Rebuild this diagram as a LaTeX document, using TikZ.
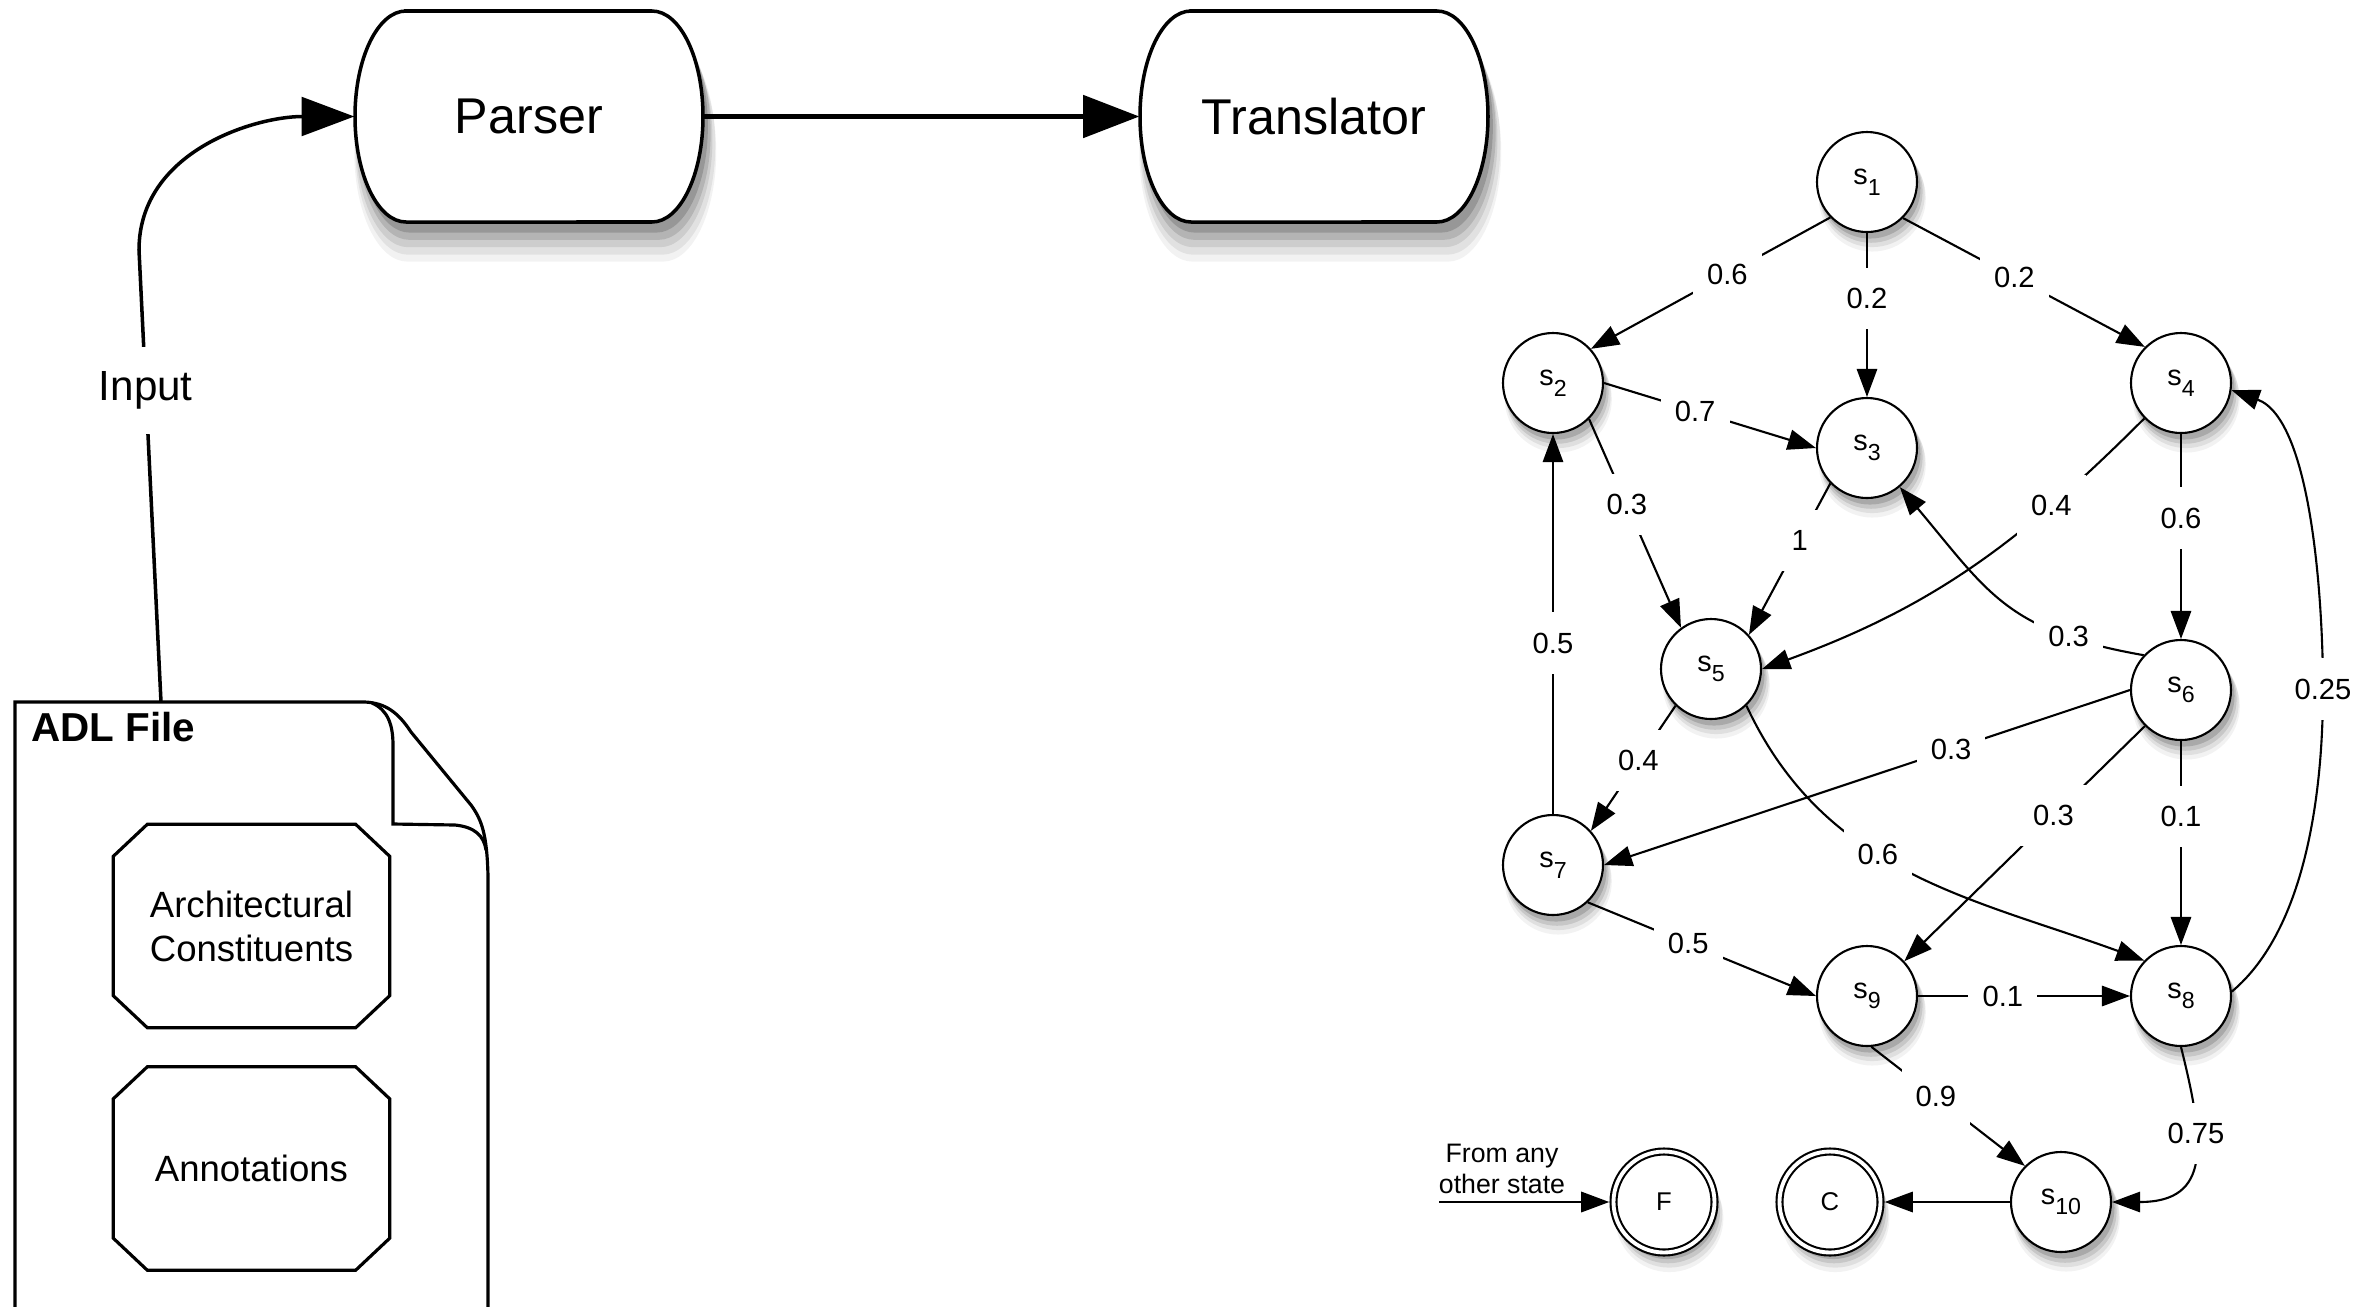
\documentclass[tikz,border=0pt]{standalone}
\usepackage{fontspec}
\setmainfont{Liberation Sans}
\usetikzlibrary{arrows.meta,shadows}

\newcommand{\sn}[1]{s\raisebox{-3pt}{\fontsize{6.6}{7}\selectfont #1}}

\begin{document}
\begin{tikzpicture}[>={Triangle[length=8pt,width=5.8pt]},
  softshadow/.style={
    general shadow={fill=black,opacity=0.05,shadow xshift=0.5mm,shadow yshift=-1.5mm,shadow scale=1.07},
    general shadow={fill=black,opacity=0.08,shadow xshift=0.5mm,shadow yshift=-1.2mm,shadow scale=1.05},
    general shadow={fill=black,opacity=0.11,shadow xshift=0.4mm,shadow yshift=-0.9mm,shadow scale=1.03},
    general shadow={fill=black,opacity=0.15,shadow xshift=0.3mm,shadow yshift=-0.6mm,shadow scale=1.01}},
  bigshadow/.style={
    general shadow={fill=black,opacity=0.05,shadow xshift=0.6mm,shadow yshift=-3.4mm,shadow scale=1.04},
    general shadow={fill=black,opacity=0.07,shadow xshift=0.6mm,shadow yshift=-2.8mm,shadow scale=1.035},
    general shadow={fill=black,opacity=0.09,shadow xshift=0.5mm,shadow yshift=-2.2mm,shadow scale=1.025},
    general shadow={fill=black,opacity=0.12,shadow xshift=0.5mm,shadow yshift=-1.6mm,shadow scale=1.015},
    general shadow={fill=black,opacity=0.16,shadow xshift=0.4mm,shadow yshift=-1mm,shadow scale=1.005}},
  state/.style={draw,circle,minimum size=1cm,inner sep=0pt,fill=white,line width=0.6pt,
    font=\fontsize{8.2}{10}\selectfont,softshadow},
  final/.style={state,double,double distance=1.1pt,minimum size=1.01cm,outer sep=1.2pt,font=\fontsize{7.3}{9}\selectfont},
  link/.style={->,line width=0.6pt},
  lbl/.style={fill=white,inner xsep=4pt,inner ysep=5.8pt,font=\fontsize{8.3}{10}\selectfont},
  proc/.style={minimum width=3.48cm,minimum height=2.11cm,inner sep=0pt,font=\fontsize{14.3}{17}\selectfont},
  procline/.style={draw,fill=white,line width=1pt,bigshadow},
  part/.style={minimum width=2.75cm,minimum height=2.02cm,inner sep=0pt,align=center,font=\fontsize{10.4}{12.5}\selectfont},
  big/.style={-{Triangle[length=16pt,width=12pt]},line width=1.3pt},
  inlbl/.style={fill=white,inner xsep=2pt,inner ysep=7pt,font=\fontsize{12}{14}\selectfont}]
\useasboundingbox (0,0) rectangle (23.8,-13.07);

% tool chain (outline first, then the text nodes on top)
\foreach \x in {5.29,13.14}
  \draw[procline] (\x-1.23,-0.11) -- (\x+1.23,-0.11)
    arc[start angle=90,end angle=-90,x radius=0.51,y radius=1.055]
    -- (\x-1.23,-2.22)
    arc[start angle=270,end angle=90,x radius=0.51,y radius=1.055] -- cycle;
\node[proc] (parser)     at (5.29,-1.165)  {Parser};
\node[proc] (translator) at (13.14,-1.165) {Translator};
\draw[big] (parser.east) -- (translator.west);

% ADL file
\draw[line width=0.9pt] (0.15,-13.3) -- (0.15,-7.02) -- (3.65,-7.02)
  .. controls (3.85,-7.03) and (3.98,-7.12) .. (4.11,-7.32) -- (4.71,-8.05)
  .. controls (4.82,-8.2) and (4.87,-8.35) .. (4.88,-8.76) -- (4.88,-13.3);
\draw[line width=0.9pt] (3.72,-7.03) .. controls (3.88,-7.1) and (3.93,-7.25) .. (3.93,-7.45)
  -- (3.93,-8.24) -- (4.55,-8.25) .. controls (4.75,-8.27) and (4.84,-8.36) .. (4.86,-8.5);
\node[anchor=west,font=\fontsize{11.5}{13}\selectfont\bfseries] (adl) at (0.19,-7.27) {ADL File};
\node[part] (arch)  at (2.515,-9.26)  {Architectural\\Constituents};
\node[part] (annot) at (2.515,-11.685) {Annotations};
\foreach \n in {arch,annot}
  \draw[line width=0.9pt] ([xshift=3.4mm]\n.north west) -- ([xshift=-3.4mm]\n.north east)
    -- ([yshift=-3.2mm]\n.north east) -- ([yshift=3.2mm]\n.south east)
    -- ([xshift=-3.4mm]\n.south east) -- ([xshift=3.4mm]\n.south west)
    -- ([yshift=3.2mm]\n.south west) -- ([yshift=-3.2mm]\n.north west) -- cycle;

\coordinate (in0)    at (1.61,-7.02);
\coordinate (inbend) at (1.39,-2.5);
\draw[line width=1pt,-{Triangle[length=15pt,width=11pt]}] (in0) -- node[inlbl,pos=0.69]{Input} (inbend)
  to[out=90,in=180] (parser.west);

% Markov chain
\node[state] (s1)  at (18.67,-1.82) {\sn{1}};
\node[state] (s2)  at (15.53,-3.83) {\sn{2}};
\node[state] (s3)  at (18.67,-4.48) {\sn{3}};
\node[state] (s4)  at (21.81,-3.83) {\sn{4}};
\node[state] (s5)  at (17.11,-6.69) {\sn{5}};
\node[state] (s6)  at (21.81,-6.90) {\sn{6}};
\node[state] (s7)  at (15.53,-8.65) {\sn{7}};
\node[state] (s8)  at (21.81,-9.96) {\sn{8}};
\node[state] (s9)  at (18.67,-9.96) {\sn{9}};
\node[state] (s10) at (20.61,-12.02) {\sn{10}};
\node[final] (c)   at (18.30,-12.02) {C};
\node[final] (f)   at (16.64,-12.02) {F};

\draw[link] (s1.224) -- node[lbl,pos=0.43]{0.6} (s2.42);
\draw[link] (s1) -- node[lbl,pos=0.4]{0.2} (s3);
\draw[link] (s1.-45) -- node[lbl,pos=0.46]{0.2} (s4.135);
\draw[link] (s2.east) -- node[lbl,pos=0.43]{0.7} (s3.west);
\draw[link] (s2.-45) -- node[lbl,pos=0.41]{0.3} (s5.126);
\draw[link] (s3.224) -- node[lbl,pos=0.375]{1} (s5.42);
\draw[link] (s4.224) to[out=225,in=20] node[lbl,pos=0.26]{0.4} (s5.east);
\draw[link] (s4) -- node[lbl,pos=0.41]{0.6} (s6);
\draw[link] (s6.137) to[out=170,in=-50,looseness=1.2] node[lbl,pos=0.22]{0.3} (s3.-50);
\draw[link] (s5.226) -- node[lbl,pos=0.44]{0.4} (s7.42);
\draw[link] (s5.-46) to[out=-65,in=160] node[lbl,pos=0.42]{0.6} (s8.136);
\draw[link] (s6.west) -- node[lbl,pos=0.34]{0.3} (s7.east);
\draw[link] (s6.225) -- node[lbl,pos=0.38]{0.3} (s9.43);
\draw[link] (s6) -- node[lbl,pos=0.37]{0.1} (s8);
\draw[link] (s7) -- node[lbl,pos=0.45]{0.5} (s2);
\draw[link] (s7.-47) -- node[lbl,pos=0.44]{0.5} (s9.west);
\draw[link] (s9) -- node[lbl,pos=0.4]{0.1} (s8);
\coordinate (r25) at (23.23,-6.89);
\draw[link] (s8.5) to[out=40,in=-90,looseness=0.8] (r25) node[lbl]{0.25}
  to[out=90,in=-20,looseness=0.7] (s4.-8);
\draw[link] (s8.south) to[out=-76,in=0,looseness=1.5] node[lbl,pos=0.35]{0.75} (s10.east);
\draw[link] (s9.-85) -- node[lbl,pos=0.42]{0.9} (s10.135);
\draw[link] (s10) -- (c);

\node[align=center,font=\fontsize{7.6}{9}\selectfont] (fromtxt) at (15.02,-11.69) {From any\\other state};
\coordinate (from) at (14.39,-12.02);
\draw[link] (from) -- (f);
\end{tikzpicture}
\end{document}
